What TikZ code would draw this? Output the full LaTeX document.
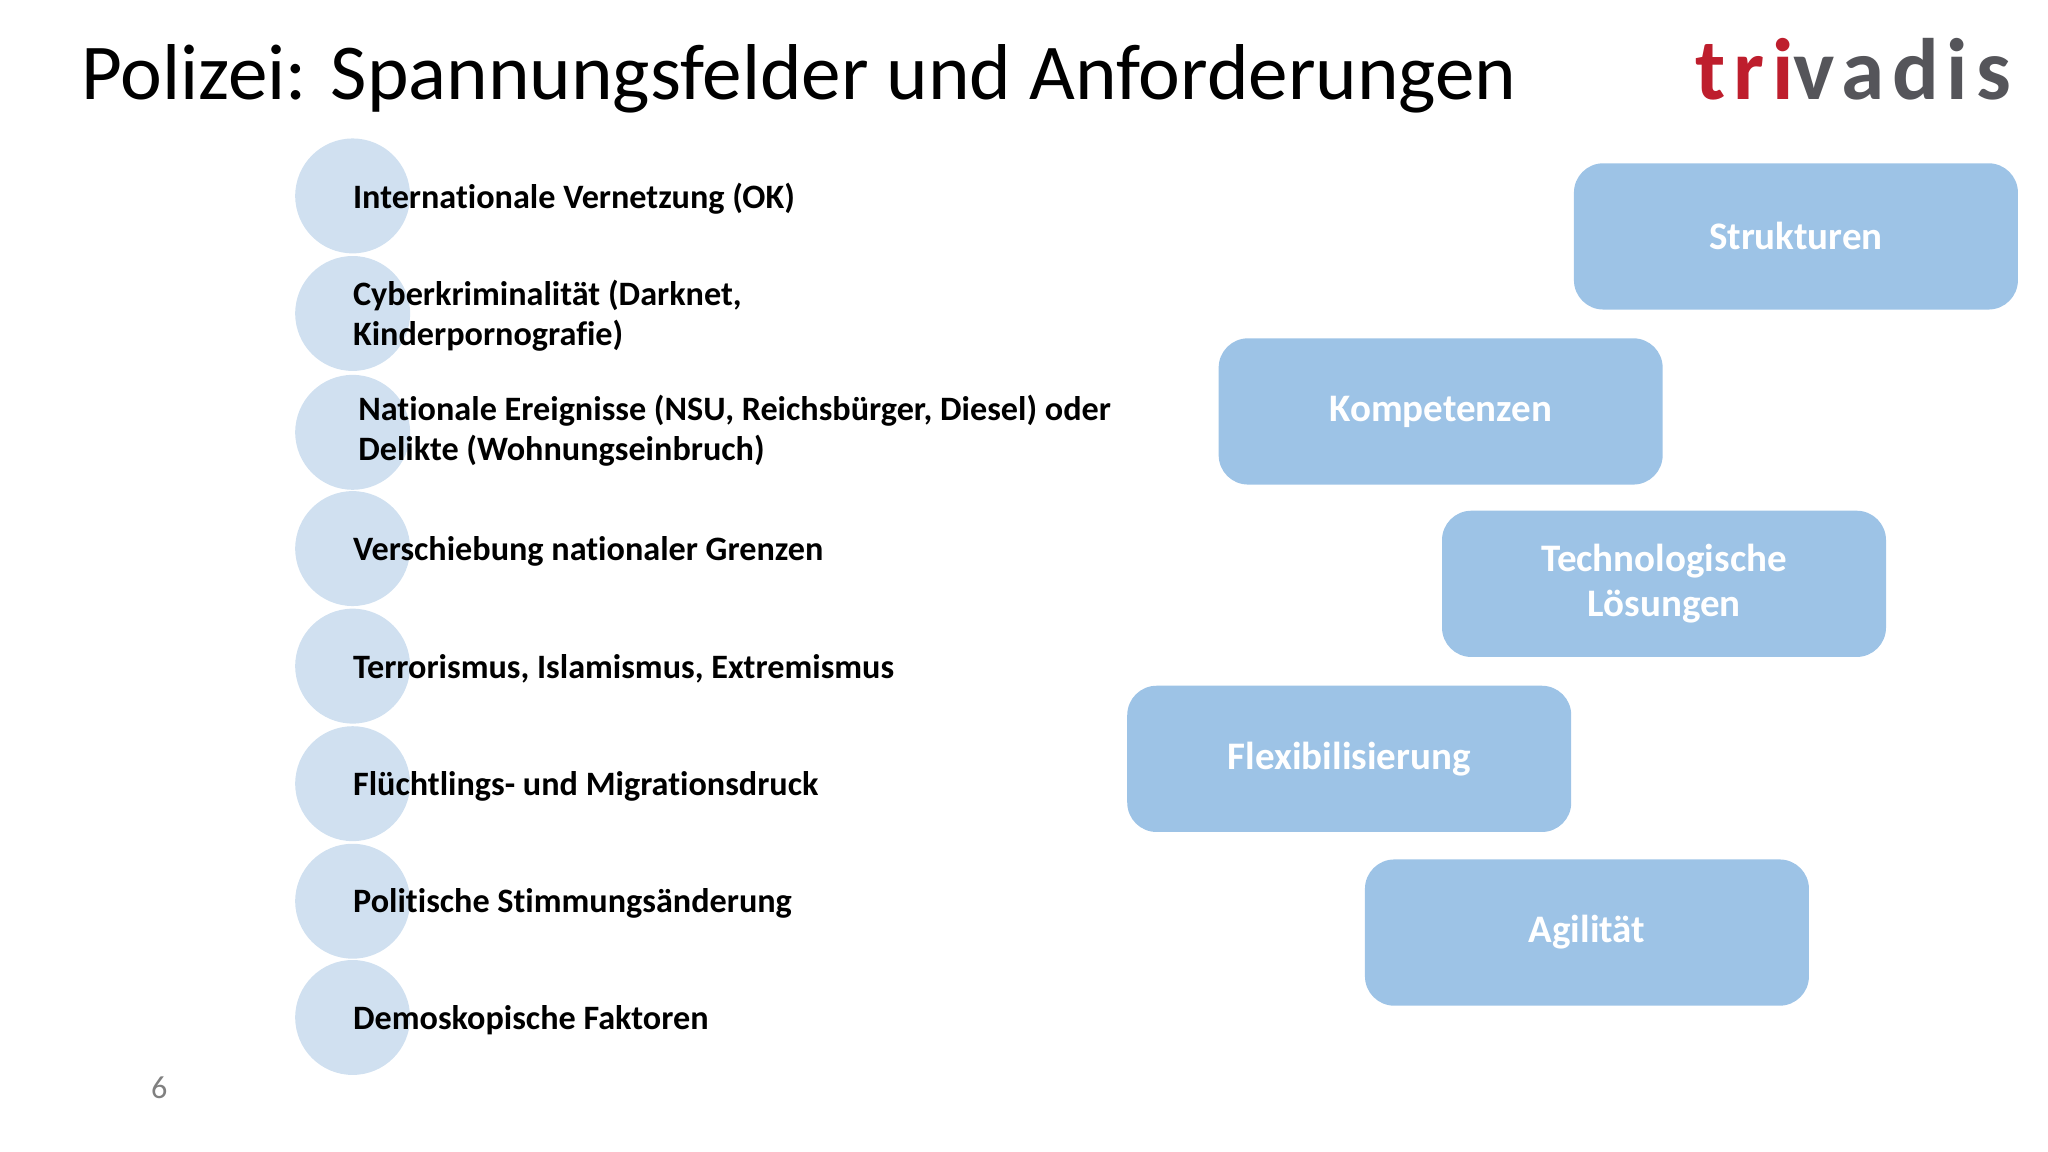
\documentclass[tikz,border=0pt]{standalone}
\usepackage{fontspec}
\setmainfont[RawFeature={-liga}]{Carlito}
\newfontfamily\logofont[LetterSpace=9]{Carlito}
\begin{document}
\begin{tikzpicture}[x=0.02cm,y=-0.02cm,
  item/.style={anchor=west,font=\fontsize{14.9}{17.5}\selectfont\bfseries,align=left,inner sep=0},
  box/.style={rounded corners=0.45cm,fill=boxblue,text=white,minimum width=6.8cm,minimum height=2.24cm,font=\fontsize{17}{19.5}\selectfont\bfseries,align=center}]
\definecolor{circblue}{RGB}{208,224,240}
\definecolor{boxblue}{RGB}{157,195,230}
\definecolor{logored}{RGB}{190,30,45}
\definecolor{logogray}{RGB}{85,85,90}
\useasboundingbox (0,0) rectangle (1568,882);
\node[anchor=base west,font=\fontsize{34.5}{38}\selectfont,inner sep=0] (title) at (62,76) {Polizei: Spannungsfelder und Anforderungen};
\node[anchor=base east,font=\logofont\fontsize{38}{40}\selectfont\bfseries,inner sep=0] (logo) at (1540,76) {\textcolor{logored}{tri}\textcolor{logogray}{vadis}};
\foreach \i/\y in {1/150,2/240,3/331,4/420,5/510,6/600,7/690,8/779}
  \node[circle,fill=circblue,minimum size=1.76cm,inner sep=0] (c\i) at (270,\y) {};
\node[item] (t1) at (270,152) {Internationale Vernetzung (OK)};
\node[item] (t2) at (270,242) {Cyberkriminalität (Darknet,\\Kinderpornografie)};
\node[item] (t3) at (274,330) {Nationale Ereignisse (NSU, Reichsbürger, Diesel) oder\\Delikte (Wohnungseinbruch)};
\node[item] (t4) at (270,422) {Verschiebung nationaler Grenzen};
\node[item] (t5) at (270,512) {Terrorismus, Islamismus, Extremismus};
\node[item] (t6) at (270,602) {Flüchtlings- und Migrationsdruck};
\node[item] (t7) at (270,692) {Politische Stimmungsänderung};
\node[item] (t8) at (270,781) {Demoskopische Faktoren};
\node[box] (b1) at (1375,181) {Strukturen};
\node[box] (b2) at (1103,315) {Kompetenzen};
\node[box] (b3) at (1274,447) {Technologische\\Lösungen};
\node[box] (b4) at (1033,581) {Flexibilisierung};
\node[box] (b5) at (1215,714) {Agilität};
\node[font=\fontsize{14}{16}\selectfont,text=gray] (pg) at (122,833) {6};
\end{tikzpicture}
\end{document}
